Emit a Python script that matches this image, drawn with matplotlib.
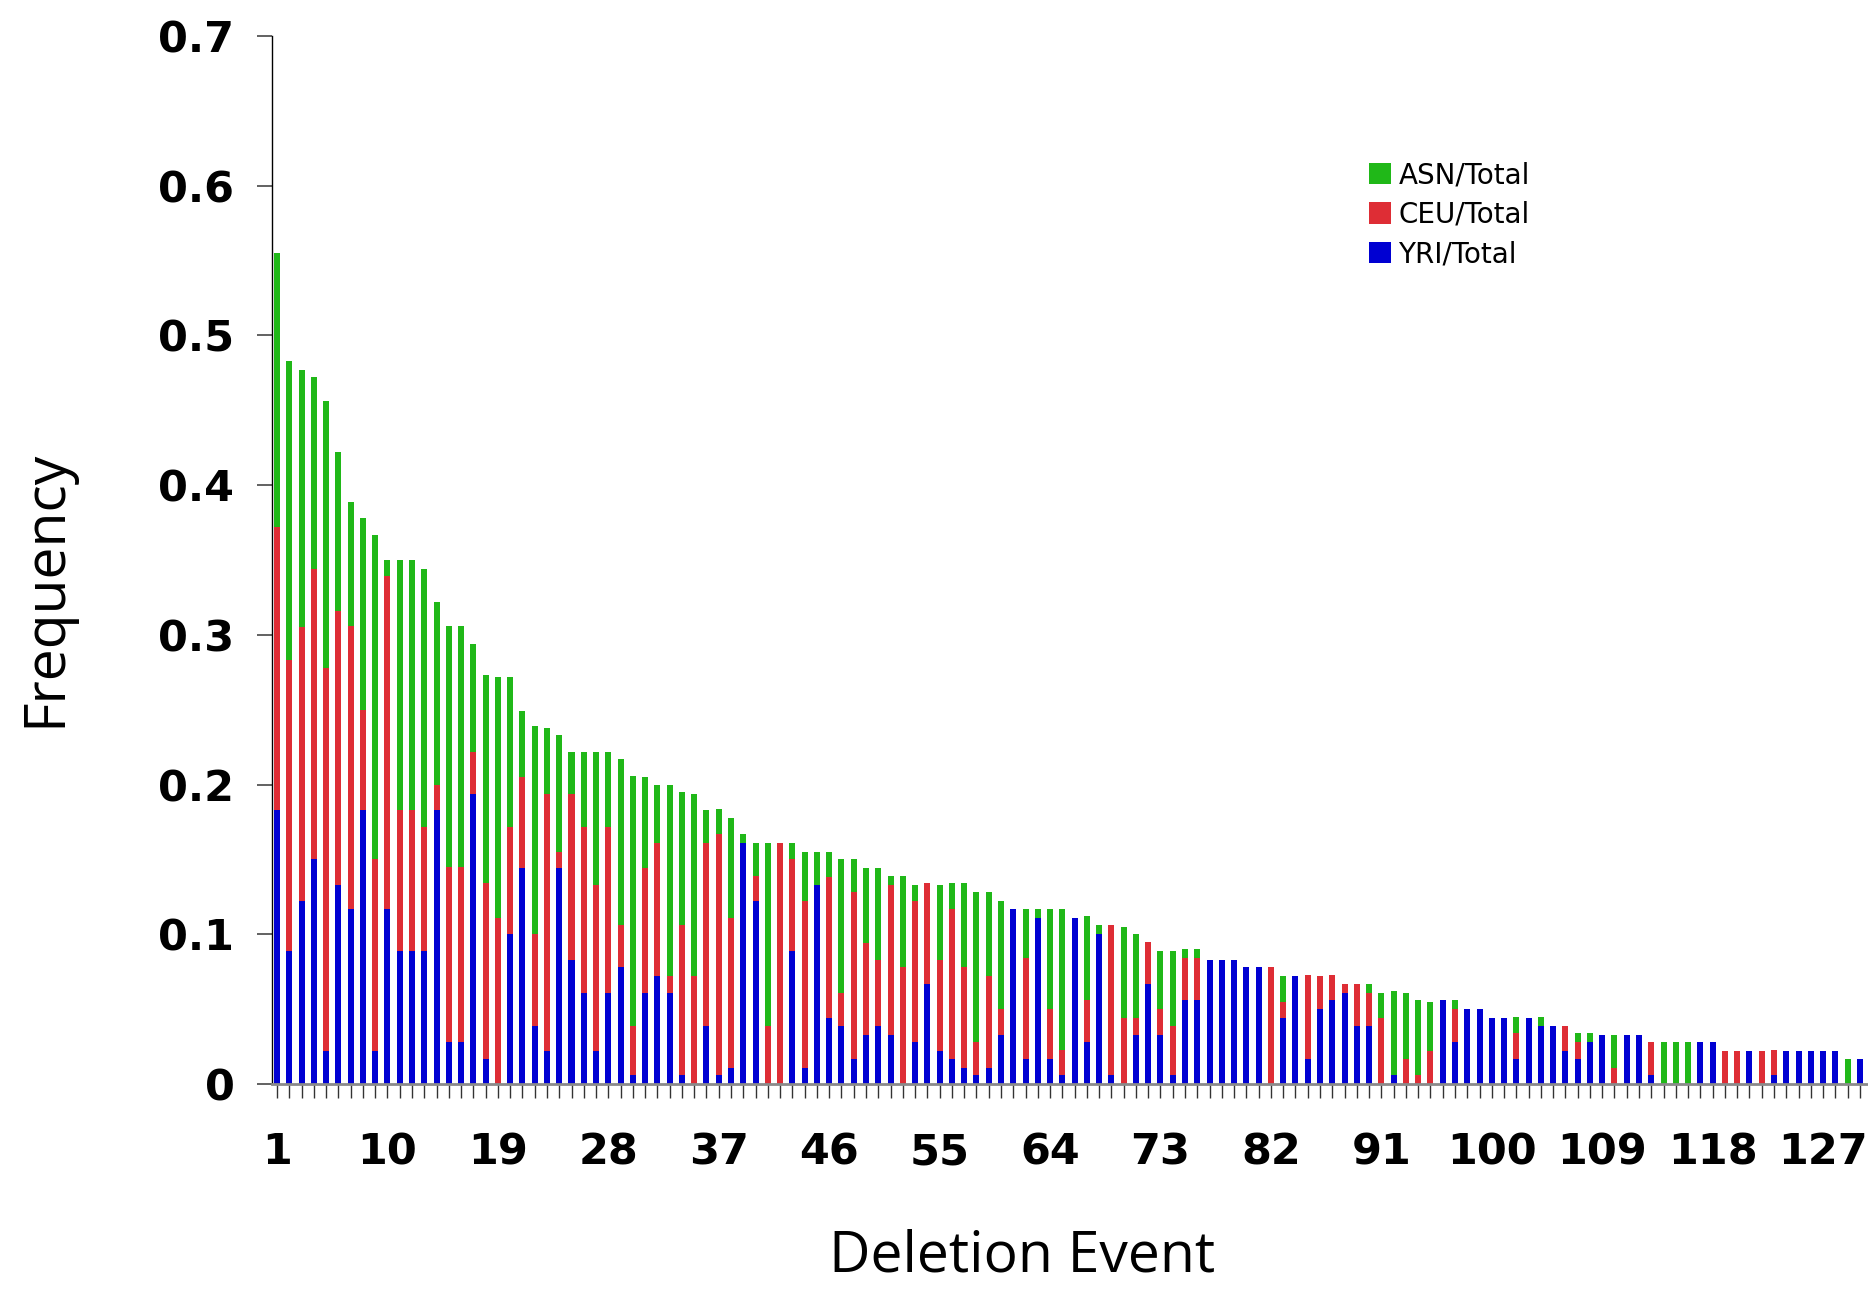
import numpy as np
import matplotlib
matplotlib.use("Agg")
import matplotlib.pyplot as plt
from matplotlib.patches import Patch

# frequencies, one value per deletion event (1..130)
yri = [.183, .089, .122, .150, .022, .133, .117, .183, .022, .117,
       .089, .089, .089, .183, .028, .028, .194, .017, 0, .100,
       .144, .039, .022, .144, .083, .061, .022, .061, .078, .006,
       .061, .072, .061, .006, 0, .039, .006, .011, .161, .122,
       0, 0, .089, .011, .133, .044, .039, .017, .033, .039,
       .033, 0, .028, .067, .022, .017, .011, .006, .011, .033,
       .117, .017, .111, .017, .006, .111, .028, .100, .006, 0,
       .033, .067, .033, .006, .056, .056, .083, .083, .083, .078,
       .078, 0, .044, .072, .017, .050, .056, .061, .039, .039,
       0, .006, 0, 0, 0, .056, .028, .050, .050, .044,
       .044, .017, .044, .039, .039, .022, .017, .028, .033, 0,
       .033, .033, .006, 0, 0, 0, .028, .028, 0, 0,
       .022, 0, .006, .022, .022, .022, .022, .022, 0, .017]

ceu = [.189, .194, .183, .194, .256, .183, .189, .067, .128, .222,
       .094, .094, .083, .017, .117, .117, .028, .117, .111, .072,
       .061, .061, .172, .011, .111, .111, .111, .111, .028, .033,
       .083, .089, .011, .100, .072, .122, .161, .100, 0, .017,
       .039, .161, .061, .111, 0, .094, .022, .111, .061, .044,
       .100, .078, .094, .067, .061, .100, .067, .022, .061, .017,
       0, .067, 0, .033, .017, 0, .028, 0, .100, .044,
       .011, .028, .017, .033, .028, .028, 0, 0, 0, 0,
       0, .078, .011, 0, .056, .022, .017, .006, .028, .022,
       .044, 0, .017, .006, .022, 0, .022, 0, 0, 0,
       0, .017, 0, 0, 0, .017, .011, 0, 0, .011,
       0, 0, .022, 0, 0, 0, 0, 0, .022, .022,
       0, .022, .017, 0, 0, 0, 0, 0, 0, 0]

asn = [.183, .200, .172, .128, .178, .106, .083, .128, .217, .011,
       .167, .167, .172, .122, .161, .161, .072, .139, .161, .100,
       .044, .139, .044, .078, .028, .050, .089, .050, .111, .167,
       .061, .039, .128, .089, .122, .022, .017, .067, .006, .022,
       .122, 0, .011, .033, .022, .017, .089, .022, .050, .061,
       .006, .061, .011, 0, .050, .017, .056, .100, .056, .072,
       0, .033, .006, .067, .094, 0, .056, .006, 0, .061,
       .056, 0, .039, .050, .006, .006, 0, 0, 0, 0,
       0, 0, .017, 0, 0, 0, 0, 0, 0, .006,
       .017, .056, .044, .050, .033, 0, .006, 0, 0, 0,
       0, .011, 0, .006, 0, 0, .006, .006, 0, .022,
       0, 0, 0, .028, .028, .028, 0, 0, 0, 0,
       0, 0, 0, 0, 0, 0, 0, 0, .017, 0]

events = np.arange(1, len(yri) + 1)
tick_labels = [str(i) for i in range(1, 128, 9)]

c_asn = "#20b818"
c_ceu = "#de2d35"
c_yri = "#0000d2"

fig = plt.figure(figsize=(18.68, 12.93), dpi=100)
ax = fig.add_axes([0.1456, 0.1616, 0.8544, 0.8106])

yri = np.array(yri)
ceu = np.array(ceu)
asn = np.array(asn)
w = 0.49
ax.bar(events, yri, width=w, color=c_yri, linewidth=0)
ax.bar(events, ceu, width=w, bottom=yri, color=c_ceu, linewidth=0)
ax.bar(events, asn, width=w, bottom=yri + ceu, color=c_asn, linewidth=0)

ax.set_xlim(0.59, 130.66)
ax.set_ylim(0, 0.7)

ax.spines["top"].set_visible(False)
ax.spines["right"].set_visible(False)
ax.spines["left"].set_color("black")
ax.spines["left"].set_linewidth(1.0)
ax.spines["bottom"].set_color("#8a8a8a")
ax.spines["bottom"].set_linewidth(2.0)

ax.set_yticks(np.arange(0, 0.71, 0.1))
ax.set_yticklabels(["0", "0.1", "0.2", "0.3", "0.4", "0.5", "0.6", "0.7"])
ax.set_xticks(events)
ax.set_xticklabels([str(e) if str(e) in tick_labels else "" for e in events])

ax.tick_params(axis="y", direction="out", length=11, width=1.3, color="#555555",
               pad=16, labelsize=31)
ax.tick_params(axis="x", direction="out", length=10, width=1.0, color="#333333",
               pad=24, labelsize=31)
for lab in ax.get_xticklabels() + ax.get_yticklabels():
    lab.set_fontweight("bold")
    lab.set_family("DejaVu Sans")

fig.text(0.0245, 0.545, "Frequency", rotation=90, ha="center", va="center",
         fontsize=41, family="Open Sans")
fig.text(0.547, 0.028, "Deletion Event", ha="center", va="center",
         fontsize=41, family="Open Sans")

handles = [Patch(facecolor=c_asn, edgecolor="none", label="ASN/Total"),
           Patch(facecolor=c_ceu, edgecolor="none", label="CEU/Total"),
           Patch(facecolor=c_yri, edgecolor="none", label="YRI/Total")]
fig.legend(handles=handles, loc="upper left", bbox_to_anchor=(0.727, 0.884),
           frameon=False, fontsize=20, handlelength=0.8, handleheight=0.8,
           handletextpad=0.25, labelspacing=0.42, borderaxespad=0)

fig.savefig("out.png", dpi=100)
